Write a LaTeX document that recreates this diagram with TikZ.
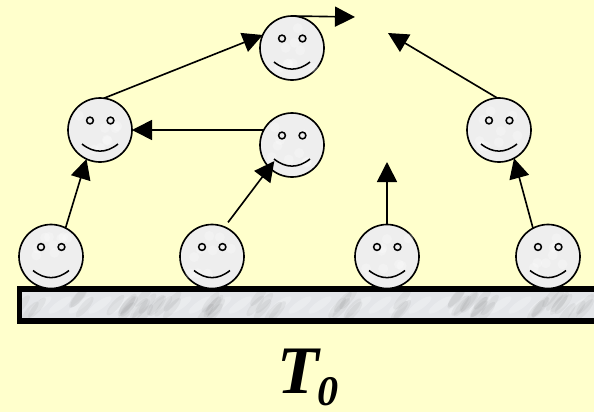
\documentclass[tikz,border=0pt]{standalone}
\usepackage{fontspec}
\setmainfont{Liberation Serif}
\usepackage{xcolor}
\usepackage{tikz}
\usetikzlibrary{arrows.meta}
\usetikzlibrary{shapes.geometric}
\definecolor{paper}{HTML}{FFFFCC}
\definecolor{marble}{HTML}{E4E6E9}
\definecolor{pearl}{HTML}{EEEEEE}

\begin{document}
\begin{tikzpicture}[x=0.03cm,y=-0.03cm]
	\tikzstyle{every node}=[inner sep=0pt,outer sep=0pt]
	\tikzstyle{ball}=[draw,circle,line width=1.4pt,fill=pearl,minimum size=1.92cm]
	\tikzstyle{move}=[-{Triangle[length=0.6cm,width=0.6cm]},line width=1.4pt]
	\tikzstyle{smudge}=[fill=black,fill opacity=0.045]
	\tikzstyle{gloss}=[fill=white,fill opacity=0.25]
	\pgfmathsetseed{17}

	\useasboundingbox[fill=paper] (0,0) rectangle (594,412);

	% plate
	\fill[marble] (19.5,289) rectangle (600,321);
	\begin{scope}
		\clip (19.5,289) rectangle (600,321);
		\foreach \x in {40,60,...,580}
			\fill[gloss,rotate around={35:(\x,305)}] (\x,305) ellipse (14 and 4);
		\foreach \x in {30,80,125,135,145,155,165,205,215,260,272,340,350,400,455,465,475,485,535,550,565,580}
			\foreach \k in {1,2,3}
				\fill[smudge,rotate around={50:(\x,305)}] (\x-8+16*rnd,297+16*rnd) ellipse (13 and 4);
	\end{scope}
	\node (plate) [draw,line width=4.7pt,minimum width=17.4cm,minimum height=0.96cm,anchor=north west] at (19.5,289) {};

	% balls
	\foreach \name/\x/\y in {sa/51/256.5,sb/212/256.5,sc/387/256.5,sd/548/256.5,ma/100/130,mb/292/145,mc/499/130,top/292/48} {
		\node (\name) [ball] at (\x,\y) {};
		\foreach \k in {1,...,9}
			\fill[gloss] (\x-22+44*rnd,\y-22+44*rnd) circle (5);
		\draw[line width=1.3pt,fill=pearl] (\x-10,\y-9.5) circle (3.4);
		\draw[line width=1.3pt,fill=pearl] (\x+10.5,\y-9.5) circle (3.4);
		\draw[line width=1.3pt] (\x-18,\y+14) .. controls (\x-6,\y+23.5) and (\x+6,\y+23.5) .. (\x+18,\y+14);
	}

	\coordinate (upa) at (355,17);
	\coordinate (upb) at (388,33);
	\coordinate (upc) at (387,162);

	% arrows
	\path[move]
	(sa.63) edge (ma.245)
	(mb.152) edge (ma.0)
	(ma.83) edge (top.156)
	(top.north) edge (upa)
	(sc.north) edge (upc)
	(sd.118) edge (mc.-62)
	(mc.93) edge (upb);
	\draw[move,shorten <=5pt,shorten >=-7pt] (sb.67) -- (mb.225);

	\node (label) [font=\fontsize{58}{58}\selectfont\bfseries\itshape,anchor=base west] at (277,393) {T\kern-1pt\raisebox{-11pt}{\fontsize{36}{36}\selectfont 0}};
\end{tikzpicture}
\end{document}
